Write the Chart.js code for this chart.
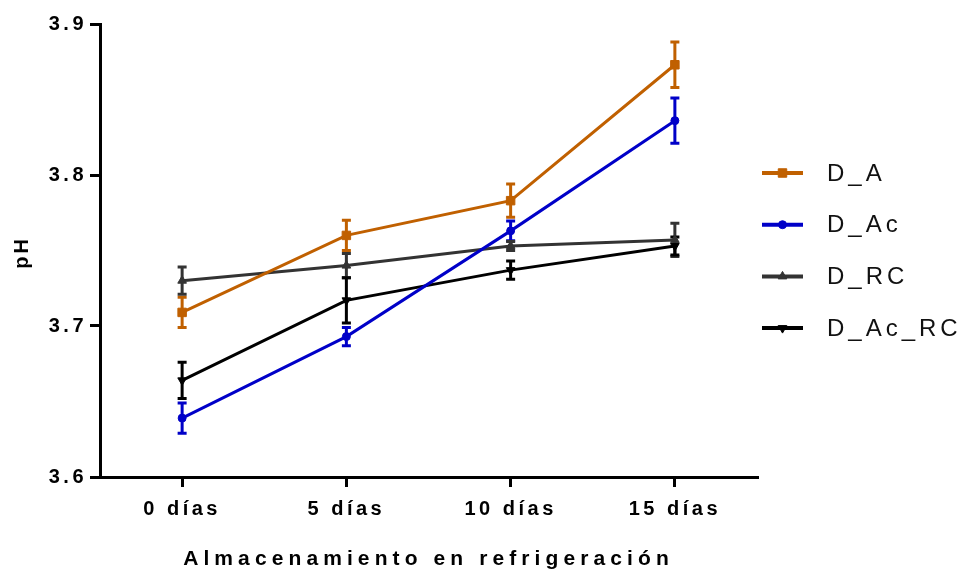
<!DOCTYPE html>
<html>
<head>
<meta charset="utf-8">
<script src="https://cdn.jsdelivr.net/npm/chart.js@4"></script>
<style>
  html, body { margin: 0; padding: 0; background: #fff; }
  #wrap { width: 963px; height: 570px; position: relative; }
</style>
</head>
<body>
<div id="wrap"><canvas id="c" width="963" height="570"></canvas></div>
<script>
const categories = ['0 días', '5 días', '10 días', '15 días'];
const seriesNames = ['D_A', 'D_Ac', 'D_RC', 'D_Ac_RC'];
const D_A = [3.709, 3.760, 3.783, 3.873];
const D_A_err = [0.010, 0.010, 0.011, 0.015];
const D_Ac = [3.639, 3.693, 3.763, 3.836];
const D_Ac_err = [0.010, 0.006, 0.0065, 0.015];
const D_RC = [3.730, 3.740, 3.753, 3.757];
const D_RC_err = [0.009, 0.008, 0.003, 0.011];
const D_Ac_RC = [3.664, 3.717, 3.737, 3.753];
const D_Ac_RC_err = [0.012, 0.015, 0.006, 0.006];
const yTicks = [3.6, 3.7, 3.8, 3.9];
const xTitle = 'Almacenamiento en refrigeración';
const yTitle = 'pH';

const colors = ['#C06000', '#0000C8', '#333333', '#000000'];
const styles = [
  { pointStyle: 'rect', radius: 6, rotation: 0 },
  { pointStyle: 'circle', radius: 4, rotation: 0 },
  { pointStyle: 'triangle', radius: 5, rotation: 0 },
  { pointStyle: 'triangle', radius: 5, rotation: 180 }
];
const values = [D_A, D_Ac, D_RC, D_Ac_RC];
const errors = [D_A_err, D_Ac_err, D_RC_err, D_Ac_RC_err];

const FONT = "'Liberation Sans', Arial, Helvetica, sans-serif";

const datasets = seriesNames.map((name, i) => ({
  label: name,
  data: values[i],
  errors: errors[i],
  borderColor: colors[i],
  backgroundColor: colors[i],
  borderWidth: 3,
  pointStyle: styles[i].pointStyle,
  pointRadius: styles[i].radius,
  pointRotation: styles[i].rotation,
  pointBorderWidth: 1,
  pointHoverRadius: styles[i].radius,
  tension: 0,
  fill: false
}));

const spacingPlugin = {
  id: 'spacing',
  beforeDraw(chart) { chart.ctx.letterSpacing = '3.5px'; },
  afterDraw(chart) { chart.ctx.letterSpacing = '0px'; }
};

const errorBarPlugin = {
  id: 'errorBars',
  beforeDatasetsDraw(chart) {
    const ctx = chart.ctx;
    const yScale = chart.scales.y;
    chart.data.datasets.forEach((ds, di) => {
      const meta = chart.getDatasetMeta(di);
      ctx.save();
      ctx.strokeStyle = ds.borderColor;
      ctx.lineWidth = 3;
      ctx.lineCap = 'butt';
      meta.data.forEach((pt, i) => {
        const v = ds.data[i], e = ds.errors[i];
        const yTop = yScale.getPixelForValue(v + e);
        const yBot = yScale.getPixelForValue(v - e);
        const x = pt.x;
        ctx.beginPath();
        ctx.moveTo(x, yTop); ctx.lineTo(x, yBot);
        ctx.moveTo(x - 4.5, yTop); ctx.lineTo(x + 4.5, yTop);
        ctx.moveTo(x - 4.5, yBot); ctx.lineTo(x + 4.5, yBot);
        ctx.stroke();
      });
      ctx.restore();
    });
  }
};

const decorPlugin = {
  id: 'decor',
  afterDraw(chart) {
    const ctx = chart.ctx;
    const area = chart.chartArea;
    ctx.save();
    // x title
    ctx.fillStyle = '#000';
    ctx.font = 'bold 21px ' + FONT;
    ctx.letterSpacing = '5.1px';
    ctx.textAlign = 'center';
    ctx.textBaseline = 'alphabetic';
    ctx.fillText(xTitle, (area.left + area.right) / 2 + 0, 565);
    // y title
    ctx.save();
    ctx.translate(28, (area.top + area.bottom) / 2 + 2);
    ctx.rotate(-Math.PI / 2);
    ctx.font = 'bold 20px ' + FONT;
    ctx.letterSpacing = '3px';
    ctx.textAlign = 'center';
    ctx.fillText(yTitle, 0, 0);
    ctx.restore();
    // legend
    const ly0 = 173, lstep = 51.7;
    seriesNames.forEach((name, i) => {
      const y = ly0 + i * lstep;
      ctx.strokeStyle = colors[i];
      ctx.lineWidth = 4;
      ctx.beginPath();
      ctx.moveTo(762, y); ctx.lineTo(803, y);
      ctx.stroke();
      ctx.fillStyle = colors[i];
      ctx.strokeStyle = colors[i];
      ctx.lineWidth = 1;
      Chart.helpers.drawPoint(ctx, {
        pointStyle: styles[i].pointStyle,
        radius: styles[i].radius,
        rotation: styles[i].rotation,
        borderWidth: 1
      }, 782.5, y);
      ctx.fillStyle = '#111';
      ctx.font = '24px ' + FONT;
      ctx.letterSpacing = '4px';
      ctx.textAlign = 'left';
      ctx.textBaseline = 'middle';
      ctx.fillText(name, 827, y + 1);
    });
    ctx.restore();
  }
};

new Chart(document.getElementById('c'), {
  type: 'line',
  data: { labels: categories, datasets },
  options: {
    responsive: false,
    animation: false,
    devicePixelRatio: 1,
    layout: { padding: { left: 0, right: 206, top: 24, bottom: 0 } },
    plugins: { legend: { display: false }, tooltip: { enabled: false }, title: { display: false } },
    scales: {
      x: {
        offset: true,
        grid: { display: true, drawOnChartArea: false, drawTicks: true, tickLength: 10, color: '#000', lineWidth: 3 },
        border: { display: true, color: '#000', width: 3 },
        ticks: {
          color: '#000', font: { family: FONT, size: 20, weight: 'bold' },
          padding: 10, maxRotation: 0, autoSkip: false
        },
        afterFit(scale) { scale.height = 93; }
      },
      y: {
        min: 3.6, max: 3.9,
        afterBuildTicks(scale) { scale.ticks = yTicks.map(v => ({ value: v })); },
        grid: { display: true, drawOnChartArea: false, drawTicks: true, tickLength: 10, color: '#000', lineWidth: 3 },
        border: { display: true, color: '#000', width: 3 },
        ticks: {
          color: '#000', font: { family: FONT, size: 20, weight: 'bold' },
          padding: 3,
          callback: (v) => Number(v).toFixed(1)
        },
        afterFit(scale) { scale.width = 100; }
      }
    }
  },
  plugins: [spacingPlugin, errorBarPlugin, decorPlugin]
});
</script>
</body>
</html>
